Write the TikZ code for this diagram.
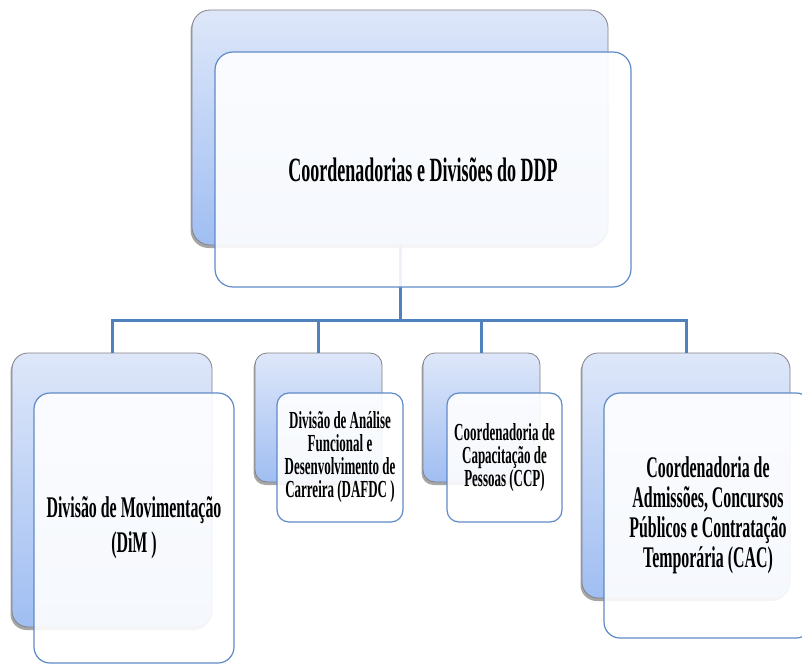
\documentclass[tikz,border=0pt]{standalone}
\usepackage{fontspec}
\setmainfont[FakeStretch=0.53]{Liberation Serif}
\usetikzlibrary{shadows}
\definecolor{backtop}{RGB}{222,231,249}
\definecolor{backbot}{RGB}{160,190,242}
\definecolor{backline}{RGB}{130,130,135}
\definecolor{frontline}{RGB}{95,138,200}
\definecolor{linkblue}{RGB}{79,129,189}
\tikzset{backbox/.style={draw=backline,line width=0.8pt,rounded corners=14pt,
  top color=backtop,bottom color=backbot,inner sep=0pt,
  drop shadow={shadow xshift=-1.5pt,shadow yshift=-3pt,opacity=0.7}}}
\tikzset{frontbox/.style={draw=frontline,line width=1.2pt,rounded corners=14pt,
  fill=white,fill opacity=0.9,text opacity=1,align=center,inner sep=0pt}}
\tikzset{link/.style={draw=linkblue,line width=3pt}}

\begin{document}
\begin{tikzpicture}[x=1pt,y=1pt]
\useasboundingbox (0,0) rectangle (802,665);
\clip (0,0) rectangle (802,665);
% back boxes
\node[backbox,rounded corners=18pt,minimum width=416pt,minimum height=235pt] (ddpback) at (400,537.5) {};
\node[backbox,rounded corners=16pt,minimum width=200pt,minimum height=274pt] (dimback) at (112,175) {};
\node[backbox,rounded corners=12pt,minimum width=127pt,minimum height=129pt] (dafdcback) at (318.5,247.5) {};
\node[backbox,rounded corners=12pt,minimum width=117pt,minimum height=129pt] (ccpback) at (481.5,247.5) {};
\node[backbox,rounded corners=16pt,minimum width=208pt,minimum height=245pt] (cacback) at (686,189.5) {};
% connectors
\coordinate (bus) at (400,345);
\draw[link] (ddpback.south) -- (bus);
\draw[link] (dimback.north) |- (bus) -| (cacback.north);
\draw[link] (dafdcback.north) -- (dafdcback.north |- bus);
\draw[link] (ccpback.north) -- (ccpback.north |- bus);
% front boxes
\node[frontbox,rounded corners=18pt,minimum width=416pt,minimum height=235pt,
  font=\bfseries\fontsize{34}{36}\selectfont] (ddp) at (423,495.5)
  {Coordenadorias e Divisões do DDP};
\node[frontbox,rounded corners=16pt,minimum width=200pt,minimum height=270pt,
  font=\bfseries\fontsize{30}{35}\selectfont] (dim) at (134,137)
  {Divisão de Movimentação\\(DiM )};
\node[frontbox,rounded corners=12pt,minimum width=126pt,minimum height=129pt,
  font=\bfseries\fontsize{24.5}{23}\selectfont] (dafdc) at (340,207.5)
  {Divisão de Análise\\Funcional e\\Desenvolvimento de\\Carreira (DAFDC )};
\node[frontbox,rounded corners=12pt,minimum width=115pt,minimum height=129pt,
  font=\bfseries\fontsize{24.5}{23}\selectfont] (ccp) at (504.5,207.5)
  {Coordenadoria de\\Capacitação de\\Pessoas (CCP)};
\node[frontbox,rounded corners=16pt,minimum width=208pt,minimum height=245pt,
  font=\bfseries\fontsize{30}{30}\selectfont] (cac) at (708,149.5)
  {Coordenadoria de\\Admissões, Concursos\\Públicos e Contratação\\Temporária (CAC)};
\end{tikzpicture}
\end{document}
